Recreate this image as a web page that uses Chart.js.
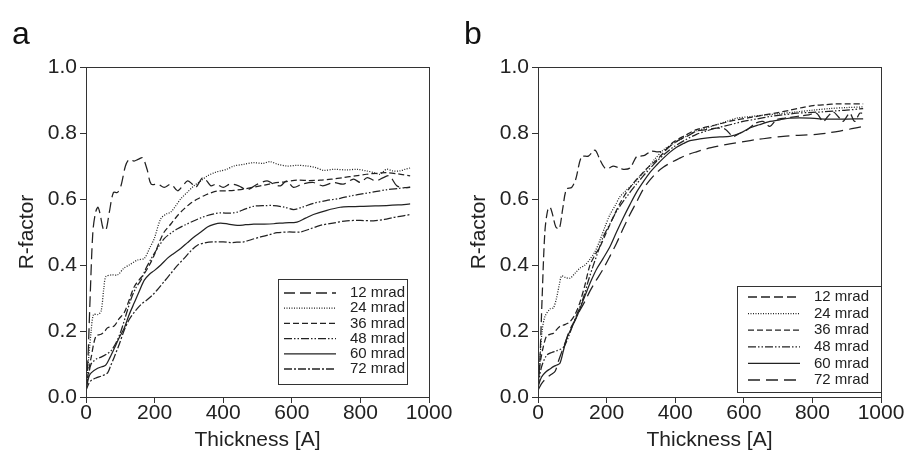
<!DOCTYPE html>
<html>
<head>
<meta charset="utf-8">
<script src="https://cdn.jsdelivr.net/npm/chart.js@4.4.1/dist/chart.umd.min.js"></script>
<style>
  body { margin: 0; background: #fff; }
  #wrap { display: flex; width: 904px; height: 465px; }
  .panel { width: 452px; height: 465px; }
</style>
</head>
<body>
<div id="wrap">
  <div class="panel"><canvas id="chartA" width="452" height="465"></canvas></div>
  <div class="panel"><canvas id="chartB" width="452" height="465"></canvas></div>
</div>
<script>
// series names and axis ticks
const seriesLabels = ["12 mrad", "24 mrad", "36 mrad", "48 mrad", "60 mrad", "72 mrad"];
const xTicks = [0, 200, 400, 600, 800, 1000];
const yTicks = [0.0, 0.2, 0.4, 0.6, 0.8, 1.0];

// panel a: [thickness, R-factor]
const a12 = [[0,0.03],[5,0.1],[12,0.3],[20,0.5],[28,0.56],[35,0.575],[42,0.55],[50,0.51],[58,0.505],[68,0.56],[80,0.62],[92,0.62],[102,0.64],[115,0.70],[126,0.72],[140,0.715],[152,0.72],[165,0.725],[178,0.69],[190,0.645],[210,0.645],[228,0.635],[248,0.645],[267,0.625],[282,0.64],[296,0.655],[310,0.645],[320,0.635],[340,0.665],[352,0.655],[364,0.64],[380,0.645],[400,0.635],[420,0.645],[445,0.64],[470,0.628],[500,0.645],[528,0.655],[548,0.645],[567,0.64],[585,0.655],[605,0.635],[630,0.645],[663,0.65],[690,0.64],[722,0.65],[750,0.645],[780,0.66],[800,0.65],[820,0.665],[845,0.655],[867,0.665],[885,0.67],[906,0.64],[925,0.635],[945,0.635]];
const a24 = [[0,0.02],[8,0.12],[15,0.2],[22,0.25],[35,0.25],[44,0.26],[52,0.33],[58,0.365],[75,0.37],[92,0.37],[110,0.39],[126,0.40],[150,0.415],[170,0.42],[185,0.45],[199,0.48],[218,0.54],[235,0.555],[247,0.56],[262,0.58],[276,0.60],[295,0.62],[315,0.64],[335,0.655],[354,0.67],[375,0.68],[392,0.685],[410,0.69],[431,0.70],[460,0.705],[489,0.71],[515,0.708],[537,0.713],[560,0.705],[586,0.70],[615,0.702],[644,0.70],[670,0.695],[692,0.687],[725,0.69],[760,0.688],[790,0.69],[818,0.685],[840,0.68],[857,0.675],[876,0.69],[895,0.685],[915,0.685],[930,0.69],[945,0.694]];
const a36 = [[0,0.03],[8,0.08],[15,0.12],[29,0.185],[44,0.19],[55,0.2],[63,0.21],[82,0.215],[95,0.235],[112,0.257],[128,0.3],[141,0.335],[155,0.355],[170,0.374],[185,0.4],[199,0.43],[214,0.47],[228,0.50],[248,0.525],[267,0.55],[286,0.57],[305,0.587],[325,0.6],[344,0.61],[363,0.618],[383,0.624],[410,0.625],[431,0.626],[460,0.63],[489,0.636],[520,0.642],[547,0.648],[580,0.652],[615,0.657],[650,0.656],[683,0.657],[715,0.66],[751,0.665],[785,0.67],[818,0.675],[848,0.678],[876,0.68],[910,0.676],[945,0.67]];
const a48 = [[0,0.03],[8,0.07],[15,0.10],[30,0.115],[44,0.121],[60,0.13],[73,0.14],[88,0.165],[102,0.2],[117,0.25],[131,0.296],[145,0.33],[160,0.354],[175,0.39],[189,0.417],[208,0.45],[228,0.48],[248,0.497],[267,0.51],[290,0.522],[315,0.534],[335,0.543],[354,0.55],[373,0.555],[392,0.558],[420,0.557],[441,0.56],[465,0.57],[489,0.578],[520,0.58],[547,0.58],[580,0.575],[605,0.568],[630,0.575],[663,0.587],[700,0.595],[741,0.602],[775,0.61],[809,0.616],[843,0.622],[876,0.628],[910,0.632],[945,0.636]];
const a60 = [[0,0.02],[8,0.06],[15,0.073],[34,0.087],[50,0.093],[58,0.097],[70,0.12],[82,0.146],[97,0.18],[112,0.21],[126,0.25],[141,0.286],[155,0.32],[170,0.354],[185,0.372],[199,0.383],[218,0.40],[237,0.42],[256,0.435],[276,0.45],[295,0.467],[315,0.485],[335,0.50],[354,0.515],[373,0.523],[392,0.527],[415,0.524],[441,0.52],[465,0.522],[489,0.524],[520,0.524],[547,0.525],[580,0.528],[615,0.53],[640,0.542],[663,0.553],[700,0.565],[741,0.575],[775,0.577],[809,0.578],[843,0.579],[876,0.58],[910,0.582],[945,0.585]];
const a72 = [[0,0.02],[8,0.04],[15,0.05],[30,0.058],[44,0.063],[55,0.068],[63,0.073],[72,0.095],[82,0.12],[97,0.16],[112,0.204],[126,0.235],[141,0.257],[160,0.28],[180,0.296],[195,0.31],[208,0.325],[228,0.35],[247,0.374],[266,0.398],[286,0.42],[305,0.442],[325,0.46],[350,0.468],[373,0.47],[400,0.47],[421,0.468],[440,0.469],[460,0.47],[485,0.478],[509,0.485],[535,0.492],[557,0.498],[590,0.5],[625,0.5],[655,0.51],[683,0.52],[720,0.527],[760,0.534],[800,0.535],[838,0.534],[870,0.538],[896,0.544],[920,0.548],[945,0.553]];

// panel b: [thickness, R-factor]
const b12 = [[0,0.03],[5,0.1],[12,0.3],[20,0.5],[28,0.565],[35,0.575],[42,0.555],[52,0.515],[62,0.51],[72,0.57],[83,0.63],[98,0.635],[110,0.66],[127,0.728],[147,0.73],[166,0.748],[181,0.718],[195,0.694],[210,0.695],[219,0.70],[235,0.695],[249,0.69],[268,0.694],[287,0.728],[300,0.73],[312,0.733],[330,0.745],[346,0.743],[365,0.745],[385,0.76],[408,0.777],[435,0.79],[462,0.806],[490,0.81],[520,0.815],[545,0.812],[569,0.79],[590,0.80],[610,0.81],[635,0.83],[656,0.835],[676,0.82],[695,0.84],[720,0.845],[753,0.85],[790,0.855],[812,0.86],[831,0.835],[845,0.85],[860,0.864],[875,0.85],[889,0.835],[909,0.86],[923,0.835],[938,0.86],[945,0.86]];
const b24 = [[0,0.03],[6,0.12],[12,0.2],[20,0.243],[35,0.267],[45,0.27],[54,0.30],[62,0.34],[69,0.367],[80,0.362],[93,0.36],[108,0.375],[122,0.39],[137,0.40],[151,0.417],[166,0.44],[181,0.476],[195,0.515],[210,0.553],[225,0.58],[239,0.607],[258,0.627],[278,0.646],[297,0.668],[317,0.69],[340,0.72],[365,0.748],[390,0.765],[414,0.78],[438,0.793],[462,0.806],[490,0.815],[520,0.825],[550,0.835],[579,0.845],[620,0.85],[656,0.854],[700,0.858],[753,0.864],[800,0.869],[850,0.874],[900,0.877],[948,0.879]];
const b36 = [[0,0.03],[6,0.1],[15,0.15],[25,0.185],[35,0.19],[45,0.193],[55,0.205],[64,0.214],[80,0.22],[93,0.228],[108,0.25],[122,0.286],[137,0.34],[151,0.398],[166,0.43],[181,0.456],[200,0.50],[219,0.544],[238,0.585],[258,0.62],[278,0.648],[297,0.67],[320,0.695],[346,0.718],[370,0.745],[394,0.772],[428,0.792],[462,0.81],[520,0.825],[579,0.84],[620,0.847],[656,0.854],[700,0.862],[734,0.869],[770,0.877],[802,0.883],[840,0.886],[870,0.888],[910,0.888],[948,0.888]];
const b48 = [[0,0.03],[10,0.09],[25,0.126],[40,0.135],[54,0.14],[74,0.15],[88,0.18],[103,0.223],[117,0.26],[132,0.30],[146,0.35],[161,0.398],[175,0.44],[190,0.485],[210,0.525],[229,0.563],[248,0.592],[268,0.62],[287,0.645],[307,0.67],[326,0.692],[346,0.714],[370,0.737],[394,0.757],[428,0.778],[462,0.796],[490,0.806],[520,0.815],[560,0.825],[598,0.835],[640,0.843],[676,0.85],[715,0.855],[753,0.86],[790,0.862],[831,0.864],[865,0.867],[899,0.869],[948,0.874]];
const b60 = [[0,0.03],[10,0.06],[25,0.078],[35,0.085],[45,0.092],[55,0.097],[64,0.102],[74,0.14],[83,0.175],[98,0.21],[113,0.243],[127,0.28],[142,0.32],[156,0.355],[171,0.388],[190,0.42],[210,0.456],[229,0.50],[249,0.544],[268,0.583],[287,0.62],[307,0.652],[326,0.68],[346,0.703],[365,0.723],[385,0.742],[404,0.757],[424,0.768],[443,0.777],[472,0.782],[501,0.786],[530,0.788],[559,0.79],[590,0.80],[617,0.815],[645,0.825],[676,0.835],[705,0.84],[734,0.845],[763,0.846],[792,0.845],[820,0.843],[850,0.842],[900,0.842],[948,0.843]];
const b72 = [[0,0.02],[10,0.04],[25,0.058],[38,0.068],[50,0.078],[60,0.11],[69,0.136],[81,0.17],[93,0.204],[108,0.233],[122,0.262],[137,0.29],[151,0.32],[170,0.354],[190,0.388],[210,0.427],[229,0.466],[248,0.51],[268,0.553],[288,0.592],[307,0.63],[326,0.657],[346,0.68],[365,0.696],[385,0.709],[410,0.722],[433,0.733],[462,0.743],[491,0.752],[525,0.76],[559,0.767],[600,0.774],[637,0.78],[675,0.785],[715,0.79],[760,0.793],[812,0.796],[845,0.8],[880,0.806],[915,0.813],[948,0.82]];

const INK = "#222";
const AXIS = "#333";
const FONT = "'Liberation Sans', Arial, sans-serif";

const dashA = [[11, 5], [1, 1.5], [6, 3], [8, 2, 1.5, 2, 1.5, 2], [], [8, 2, 2, 2]];
const dashB = [[9, 4], [1, 1.5], [6, 3], [8, 2, 1.5, 2, 1.5, 2], [], [12, 6]];

function makeDatasets(series, dashes) {
  return series.map((pts, i) => ({
    label: seriesLabels[i],
    data: pts.map(p => ({ x: p[0], y: p[1] })),
    borderColor: INK,
    borderWidth: 1.25,
    borderDash: dashes[i],
    pointRadius: 0,
    tension: 0.3,
    fill: false
  }));
}

// box around the plot area
const framePlugin = {
  id: "frame",
  afterDraw(chart) {
    const { ctx, chartArea: a } = chart;
    ctx.save();
    ctx.strokeStyle = AXIS;
    ctx.lineWidth = 1;
    ctx.strokeRect(Math.round(a.left) + 0.5, Math.round(a.top) + 0.5,
      Math.round(a.right - a.left), Math.round(a.bottom - a.top));
    ctx.restore();
  }
};

// panel letter
const letterPlugin = {
  id: "letter",
  afterDraw(chart, args, opts) {
    const { ctx } = chart;
    ctx.save();
    ctx.fillStyle = "#111";
    ctx.font = "32px " + FONT;
    ctx.textBaseline = "alphabetic";
    ctx.fillText(opts.text, opts.x, opts.y);
    ctx.restore();
  }
};

// legend box drawn inside the plot
const boxLegend = {
  id: "boxLegend",
  afterDraw(chart, args, o) {
    const { ctx } = chart;
    ctx.save();
    ctx.fillStyle = "#fff";
    ctx.fillRect(o.x, o.y, o.w, o.h);
    ctx.strokeStyle = AXIS;
    ctx.lineWidth = 1;
    ctx.strokeRect(o.x + 0.5, o.y + 0.5, o.w, o.h);
    ctx.font = o.fontSize + "px " + FONT;
    ctx.textBaseline = "middle";
    chart.data.datasets.forEach((ds, i) => {
      const y = o.y + o.firstRow + i * o.rowGap;
      ctx.strokeStyle = INK;
      ctx.lineWidth = 1.3;
      ctx.setLineDash(ds.borderDash);
      ctx.beginPath();
      ctx.moveTo(o.x + o.lineStart, y);
      ctx.lineTo(o.x + o.lineEnd, y);
      ctx.stroke();
      ctx.setLineDash([]);
      ctx.fillStyle = INK;
      ctx.fillText(ds.label, o.x + o.textStart, y);
    });
    ctx.restore();
  }
};

function makeChart(id, series, dashes, letter, legendBox) {
  return new Chart(document.getElementById(id), {
    type: "line",
    data: { datasets: makeDatasets(series, dashes) },
    plugins: [framePlugin, letterPlugin, boxLegend],
    options: {
      responsive: false,
      animation: false,
      devicePixelRatio: 1,
      layout: { padding: { left: 0, right: 23, top: 67, bottom: 0 } },
      plugins: {
        legend: { display: false },
        tooltip: { enabled: false },
        letter: { text: letter, x: 12, y: 44 },
        boxLegend: legendBox
      },
      scales: {
        x: {
          type: "linear",
          min: 0,
          max: 1000,
          afterBuildTicks: s => { s.ticks = xTicks.map(v => ({ value: v })); },
          afterFit: s => { s.height = 68; },
          grid: { display: true, drawOnChartArea: false, drawTicks: true, tickLength: 6, color: AXIS },
          border: { display: true, color: AXIS },
          ticks: { color: INK, padding: -2, maxRotation: 0, callback: v => String(v), font: { size: 21, family: FONT } },
          title: { display: true, text: "Thickness [A]", color: INK, padding: { top: 0, bottom: 12 }, font: { size: 21, family: FONT } }
        },
        y: {
          type: "linear",
          min: 0,
          max: 1,
          afterBuildTicks: s => { s.ticks = yTicks.map(v => ({ value: v })); },
          afterFit: s => { s.width = 86; },
          grid: { display: true, drawOnChartArea: false, drawTicks: true, tickLength: 6, color: AXIS },
          border: { display: true, color: AXIS },
          ticks: { color: INK, padding: 3, callback: v => v.toFixed(1), font: { size: 21, family: FONT } },
          title: { display: true, text: "R-factor", color: INK, padding: { top: 15, bottom: 0 }, font: { size: 21, family: FONT } }
        }
      }
    }
  });
}

makeChart("chartA", [a12, a24, a36, a48, a60, a72], dashA, "a",
  { x: 278, y: 279, w: 129, h: 105, firstRow: 14, rowGap: 15.2, lineStart: 6, lineEnd: 58, textStart: 72, fontSize: 15 });
makeChart("chartB", [b12, b24, b36, b48, b60, b72], dashB, "b",
  { x: 285, y: 286, w: 144, h: 106, firstRow: 11, rowGap: 16.6, lineStart: 11, lineEnd: 63, textStart: 77, fontSize: 15 });
</script>
</body>
</html>
